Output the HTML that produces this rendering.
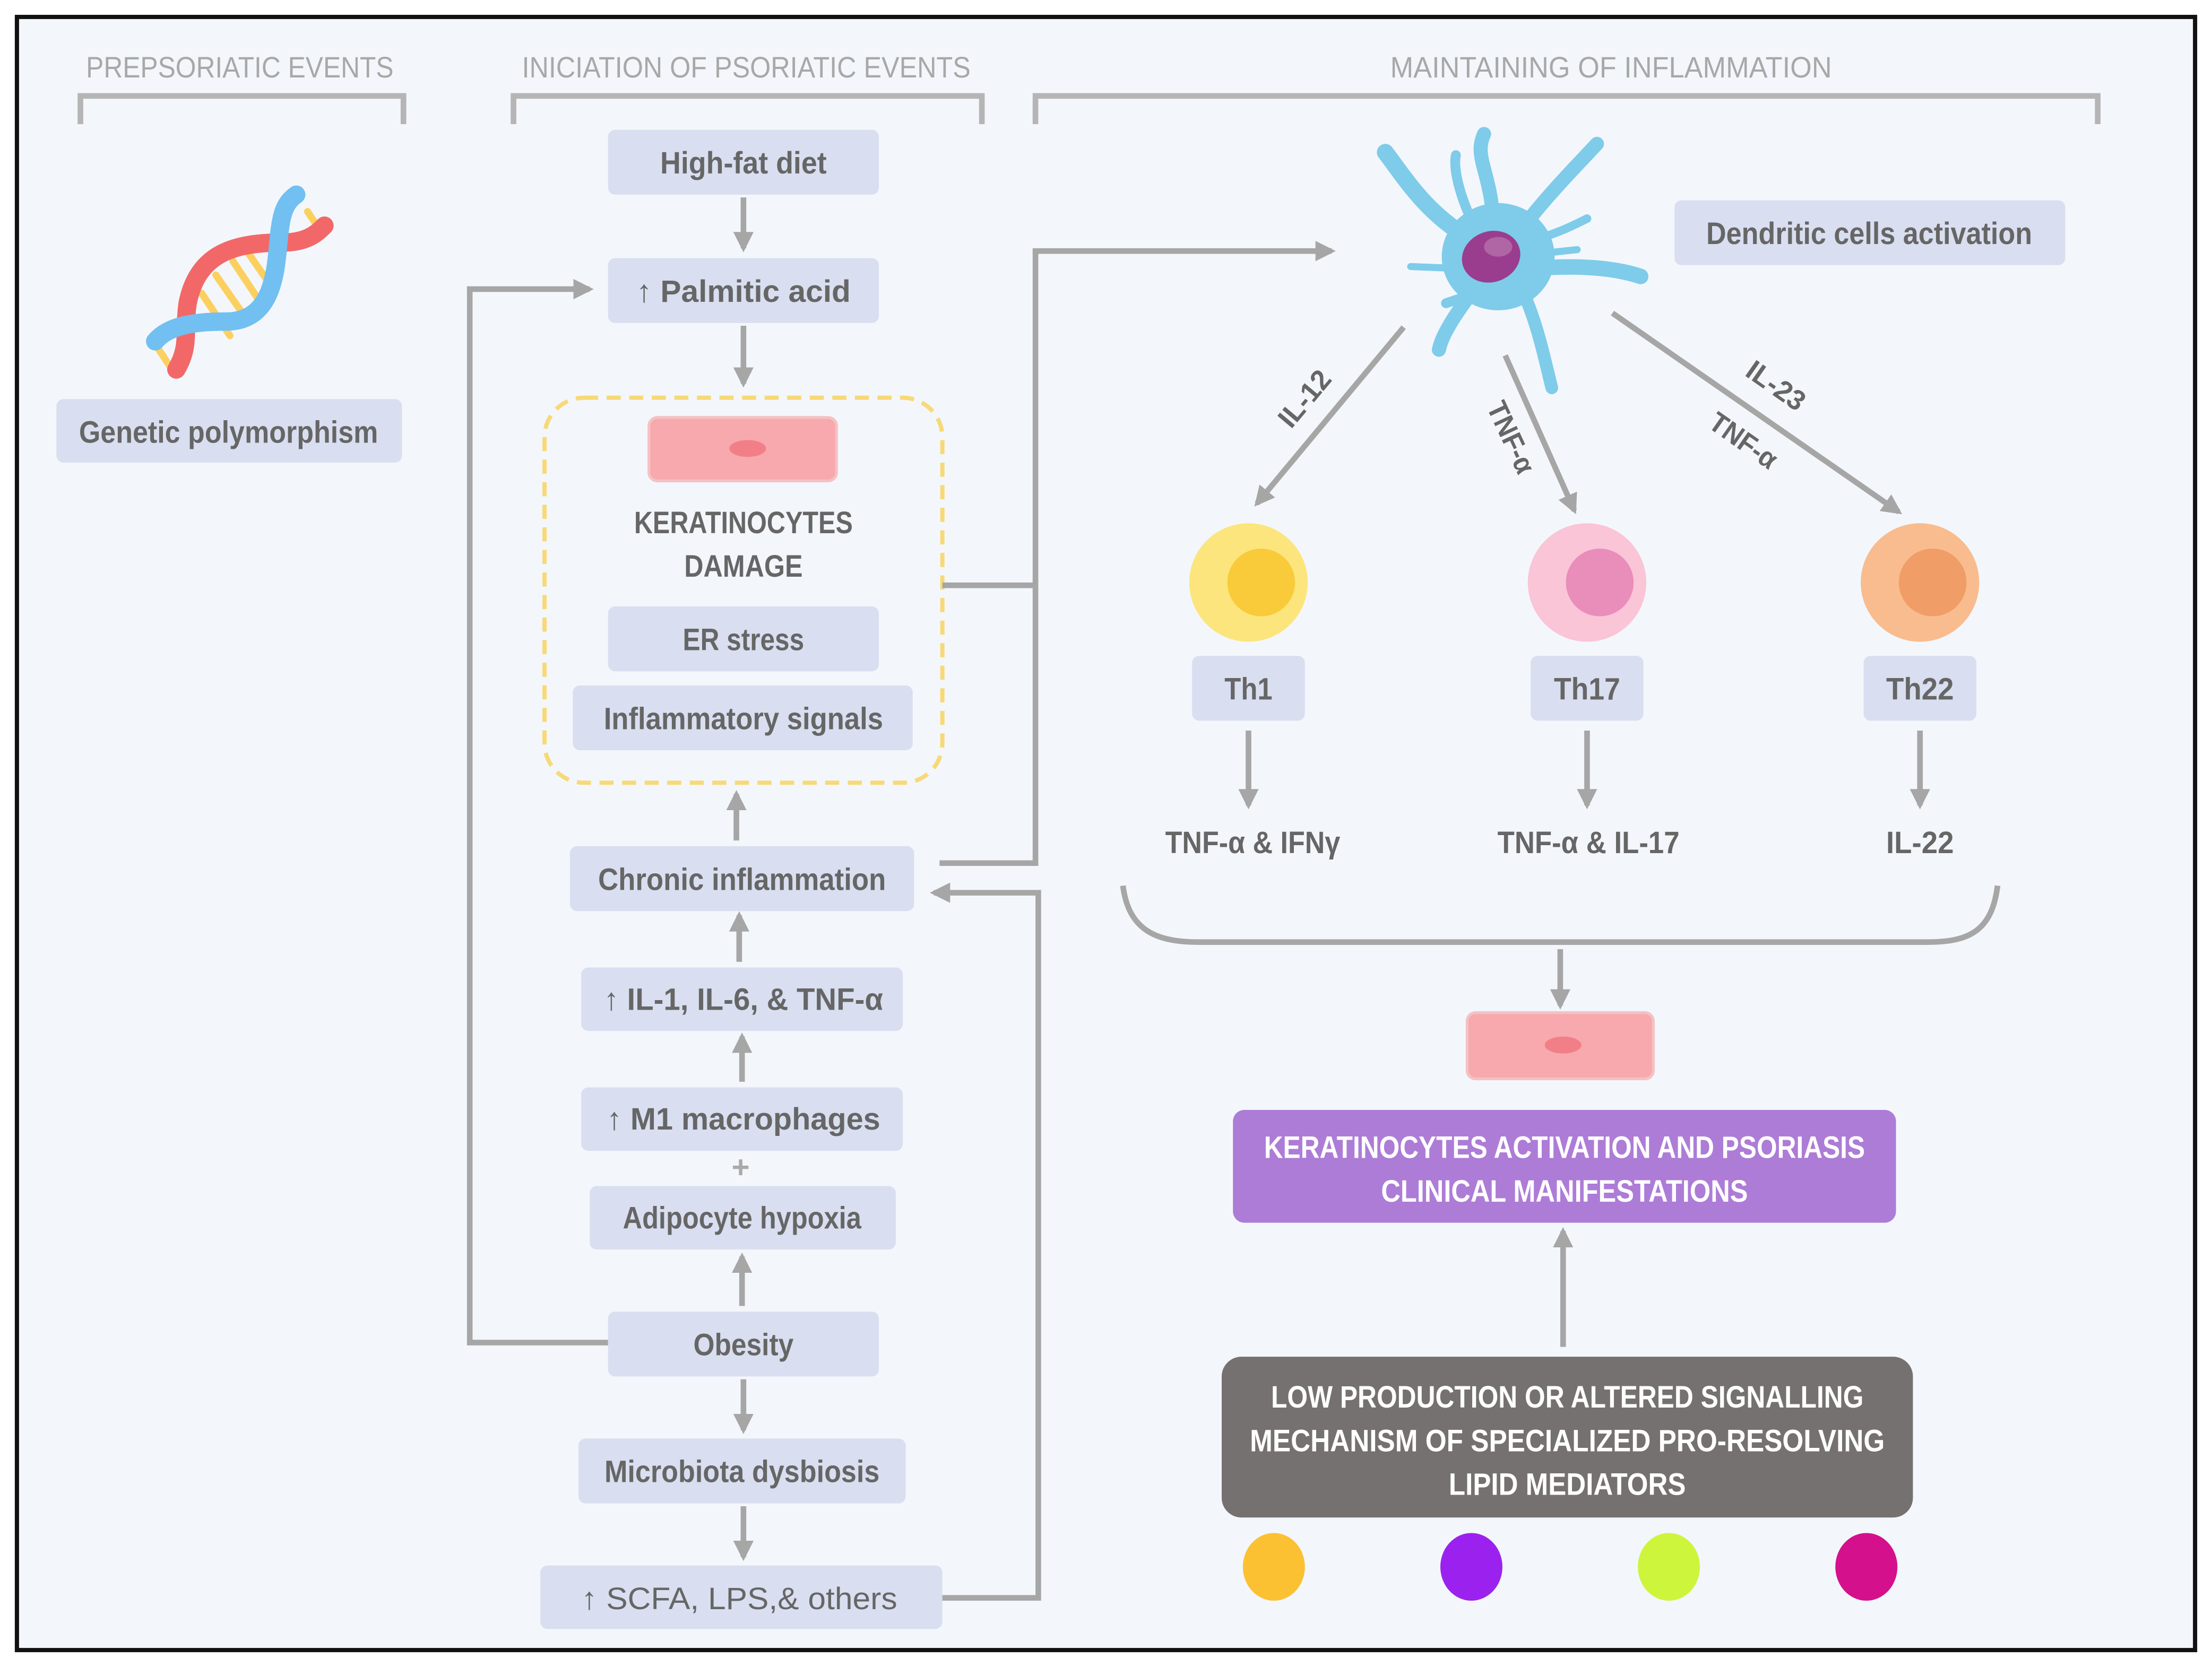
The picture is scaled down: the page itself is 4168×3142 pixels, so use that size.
<!DOCTYPE html>
<html><head><meta charset="utf-8"><style>
html,body{margin:0;padding:0;background:#fff;}
svg{display:block;}
text{font-family:"Liberation Sans",sans-serif;}
</style></head><body>
<svg width="4168" height="3142" viewBox="0 0 1568 1182" xmlns="http://www.w3.org/2000/svg">
<defs>
<marker id="ah" viewBox="0 0 10 10" markerWidth="3.6" markerHeight="3.6" refX="8" refY="5" orient="auto" markerUnits="strokeWidth">
<path d="M0,0 L10,5 L0,10 Z" fill="#a6a6a6"/></marker>
</defs>
<rect x="0" y="0" width="1568" height="1182" fill="#fff"/>
<rect x="12" y="12" width="1544" height="1158" fill="#f3f7fb" stroke="#111" stroke-width="3"/>

<!-- headers -->
<g fill="#a8a8a8" font-size="21" text-anchor="middle" lengthAdjust="spacingAndGlyphs">
<text x="170" y="55" textLength="218" lengthAdjust="spacingAndGlyphs">PREPSORIATIC EVENTS</text>
<text x="529" y="55" textLength="318" lengthAdjust="spacingAndGlyphs">INICIATION OF PSORIATIC EVENTS</text>
<text x="1142" y="55" textLength="313" lengthAdjust="spacingAndGlyphs">MAINTAINING OF INFLAMMATION</text>
</g>
<g fill="none" stroke="#b5b5b5" stroke-width="4">
<path d="M57,88 V68 H286 V88"/>
<path d="M364,88 V68 H696 V88"/>
<path d="M734,88 V68 H1487 V88"/>
</g>

<!-- DNA -->
<g fill="none" stroke-linecap="round">
<g stroke="#fcd060" stroke-width="5">
<line x1="143" y1="208" x2="163" y2="238"/><line x1="153" y1="195" x2="176" y2="228"/><line x1="165" y1="185" x2="185" y2="215"/><line x1="175" y1="178" x2="193" y2="204"/>
<line x1="218" y1="150" x2="228" y2="165"/><line x1="112" y1="247" x2="122" y2="262"/>
</g>
<path d="M125,262 C135,245 130,235 133,215 C140,180 165,172 200,172 C218,172 225,165 230,160" stroke="#f26868" stroke-width="13"/>
<path d="M110,242 C120,230 140,228 160,228 C190,228 195,200 197,175 C199,155 200,145 210,138" stroke="#72bff2" stroke-width="13"/>
</g>

<g fill="#d9dff0">
<rect x="40" y="283" width="245" height="45" rx="5"/>
<rect x="431" y="92" width="192" height="46" rx="5"/>
<rect x="431" y="183" width="192" height="46" rx="5"/>
<rect x="431" y="430" width="192" height="46" rx="5"/>
<rect x="406" y="486" width="241" height="46" rx="5"/>
<rect x="404" y="600" width="244" height="46" rx="5"/>
<rect x="412" y="686" width="228" height="45" rx="5"/>
<rect x="412" y="771" width="228" height="45" rx="5"/>
<rect x="418" y="841" width="217" height="45" rx="5"/>
<rect x="431" y="930" width="192" height="46" rx="5"/>
<rect x="410" y="1020" width="232" height="46" rx="5"/>
<rect x="383" y="1110" width="285" height="45" rx="5"/>
<rect x="1187" y="142" width="277" height="46" rx="5"/>
<rect x="845" y="465" width="80" height="46" rx="5"/>
<rect x="1085" y="465" width="80" height="46" rx="5"/>
<rect x="1321" y="465" width="80" height="46" rx="5"/>
</g>
<g fill="#666" font-size="22" text-anchor="middle" font-weight="bold">
<text x="162" y="314" textLength="212" lengthAdjust="spacingAndGlyphs">Genetic polymorphism</text>
<text x="527" y="123" textLength="118" lengthAdjust="spacingAndGlyphs">High-fat diet</text>
<text x="527" y="214" textLength="152" lengthAdjust="spacingAndGlyphs">↑  Palmitic acid</text>
<text x="527" y="378" textLength="155" lengthAdjust="spacingAndGlyphs">KERATINOCYTES</text>
<text x="527" y="409" textLength="84" lengthAdjust="spacingAndGlyphs">DAMAGE</text>
<text x="527" y="461" textLength="86" lengthAdjust="spacingAndGlyphs">ER stress</text>
<text x="527" y="517" textLength="198" lengthAdjust="spacingAndGlyphs">Inflammatory signals</text>
<text x="526" y="631" textLength="204" lengthAdjust="spacingAndGlyphs">Chronic inflammation</text>
<text x="527" y="716" textLength="198" lengthAdjust="spacingAndGlyphs">↑ IL-1, IL-6, &amp; TNF-α</text>
<text x="527" y="801" textLength="194" lengthAdjust="spacingAndGlyphs">↑ M1 macrophages</text>
<text x="526" y="871" textLength="169" lengthAdjust="spacingAndGlyphs">Adipocyte hypoxia</text>
<text x="527" y="961" textLength="71" lengthAdjust="spacingAndGlyphs">Obesity</text>
<text x="526" y="1051" textLength="195" lengthAdjust="spacingAndGlyphs">Microbiota dysbiosis</text>
<text x="1325" y="173" textLength="231" lengthAdjust="spacingAndGlyphs">Dendritic cells activation</text>
<text x="885" y="496" textLength="34" lengthAdjust="spacingAndGlyphs">Th1</text>
<text x="1125" y="496" textLength="47" lengthAdjust="spacingAndGlyphs">Th17</text>
<text x="1361" y="496" textLength="48" lengthAdjust="spacingAndGlyphs">Th22</text>
</g>
<text x="524" y="1141" fill="#666" font-size="22" text-anchor="middle" textLength="224" lengthAdjust="spacingAndGlyphs">↑ SCFA, LPS,&amp; others</text>
<text x="525" y="835" fill="#aaa" font-size="22" text-anchor="middle" font-weight="bold">+</text>

<rect x="386" y="282" width="282" height="273" rx="28" fill="none" stroke="#f7d977" stroke-width="3" stroke-dasharray="10,6"/>
<rect x="460" y="296" width="133" height="45" rx="6" fill="#f7a9ae" stroke="#f4c2c4" stroke-width="2"/>
<ellipse cx="530" cy="318" rx="13" ry="6" fill="#f27f88"/>
<rect x="1040" y="718" width="132" height="47" rx="6" fill="#f7a9ae" stroke="#f4c2c4" stroke-width="2"/>
<ellipse cx="1108" cy="741" rx="13" ry="6" fill="#f27f88"/>

<g stroke="#a6a6a6" stroke-width="4" fill="none" marker-end="url(#ah)">
<line x1="527" y1="140" x2="527" y2="176"/>
<line x1="527" y1="231" x2="527" y2="272"/>
<line x1="522" y1="596" x2="522" y2="563"/>
<line x1="524" y1="682" x2="524" y2="649"/>
<line x1="526" y1="767" x2="526" y2="735"/>
<line x1="526" y1="926" x2="526" y2="891"/>
<line x1="527" y1="978" x2="527" y2="1014"/>
<line x1="527" y1="1068" x2="527" y2="1104"/>
<path d="M431,952 H333 V205 H418"/>
<path d="M668,415 H734 M666,612 H734 V178 H944"/>
<path d="M668,1133 H736 V633 H662"/>
<line x1="995" y1="232" x2="891" y2="357"/>
<line x1="1067" y1="252" x2="1116" y2="362"/>
<line x1="1143" y1="222" x2="1346" y2="363"/>
<line x1="885" y1="518" x2="885" y2="571"/>
<line x1="1125" y1="518" x2="1125" y2="571"/>
<line x1="1361" y1="518" x2="1361" y2="571"/>
<line x1="1106" y1="673" x2="1106" y2="713"/>
<line x1="1108" y1="955" x2="1108" y2="873"/>
</g>
<path d="M796,628 C800,660 820,668 850,668 H1366 C1396,668 1412,660 1416,628" fill="none" stroke="#a6a6a6" stroke-width="4"/>

<g fill="#666" font-size="20" text-anchor="middle" font-weight="bold">
<text transform="translate(930,287) rotate(-50)" textLength="46" lengthAdjust="spacingAndGlyphs">IL-12</text>
<text transform="translate(1065,313) rotate(65)" textLength="54" lengthAdjust="spacingAndGlyphs">TNF-α</text>
<text transform="translate(1255,279) rotate(35)" textLength="46" lengthAdjust="spacingAndGlyphs">IL-23</text>
<text transform="translate(1232,318) rotate(35)" textLength="54" lengthAdjust="spacingAndGlyphs">TNF-α</text>
</g>
<g fill="#666" font-size="22" text-anchor="middle" font-weight="bold">
<text x="888" y="605" textLength="124" lengthAdjust="spacingAndGlyphs">TNF-α &amp; IFNγ</text>
<text x="1126" y="605" textLength="129" lengthAdjust="spacingAndGlyphs">TNF-α &amp; IL-17</text>
<text x="1361" y="605" textLength="48" lengthAdjust="spacingAndGlyphs">IL-22</text>
</g>

<!-- dendritic cell -->
<g fill="none" stroke="#7fcbea" stroke-linecap="round" stroke-linejoin="round">
<path d="M1040,168 C1010,150 995,125 982,108" stroke-width="12"/>
<path d="M1058,150 C1055,120 1045,110 1052,95" stroke-width="10"/>
<path d="M1045,160 C1035,140 1030,120 1032,110" stroke-width="7"/>
<path d="M1082,158 C1100,135 1120,115 1132,102" stroke-width="10"/>
<path d="M1088,170 C1105,165 1115,160 1125,155" stroke-width="6"/>
<path d="M1092,190 C1120,188 1145,190 1163,196" stroke-width="11"/>
<path d="M1090,180 L1118,177" stroke-width="5"/>
<path d="M1045,205 C1030,225 1022,238 1020,248" stroke-width="10"/>
<path d="M1080,208 C1090,230 1095,255 1100,275" stroke-width="9"/>
<path d="M1025,190 L1000,189" stroke-width="5"/>
<path d="M1040,210 L1025,215" stroke-width="7"/>
</g>
<ellipse cx="1062" cy="182" rx="40" ry="38" fill="#7fcbea"/>
<ellipse cx="1057" cy="182" rx="21" ry="18" fill="#9a3d8e" transform="rotate(-20 1057 182)"/>
<ellipse cx="1062" cy="175" rx="10" ry="7" fill="#b065a4"/>

<circle cx="885" cy="413" r="42" fill="#fce57c"/><circle cx="894" cy="413" r="24" fill="#f9cb3a"/>
<circle cx="1125" cy="413" r="42" fill="#fac5d6"/><circle cx="1134" cy="413" r="24" fill="#e98dbb"/>
<circle cx="1361" cy="413" r="42" fill="#f9bc8e"/><circle cx="1370" cy="413" r="24" fill="#f19d68"/>

<rect x="874" y="787" width="470" height="80" rx="8" fill="#ad7cd7"/>
<g fill="#fff" font-size="22" text-anchor="middle" font-weight="bold">
<text x="1109" y="821" textLength="426" lengthAdjust="spacingAndGlyphs">KERATINOCYTES ACTIVATION AND PSORIASIS</text>
<text x="1109" y="852" textLength="260" lengthAdjust="spacingAndGlyphs">CLINICAL MANIFESTATIONS</text>
</g>
<rect x="866" y="962" width="490" height="114" rx="14" fill="#767171"/>
<g fill="#fff" font-size="22" text-anchor="middle" font-weight="bold">
<text x="1111" y="998" textLength="420" lengthAdjust="spacingAndGlyphs">LOW PRODUCTION OR ALTERED SIGNALLING</text>
<text x="1111" y="1029" textLength="450" lengthAdjust="spacingAndGlyphs">MECHANISM OF  SPECIALIZED PRO-RESOLVING</text>
<text x="1111" y="1060" textLength="168" lengthAdjust="spacingAndGlyphs">LIPID MEDIATORS</text>
</g>
<ellipse cx="903" cy="1111" rx="22" ry="24" fill="#fcc133"/>
<ellipse cx="1043" cy="1111" rx="22" ry="24" fill="#9b22ee"/>
<ellipse cx="1183" cy="1111" rx="22" ry="24" fill="#cdf53c"/>
<ellipse cx="1323" cy="1111" rx="22" ry="24" fill="#d4108d"/>
</svg>
</body></html>
